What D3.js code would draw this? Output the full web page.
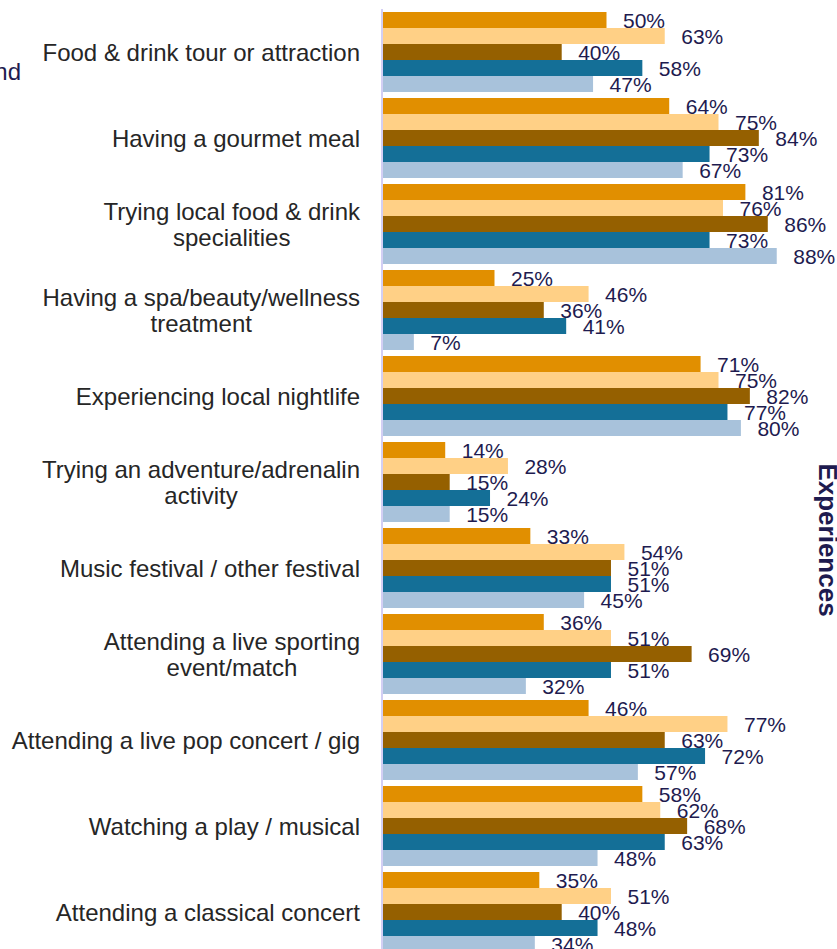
<!DOCTYPE html>
<html>
<head>
<meta charset="utf-8">
<script src="https://cdn.jsdelivr.net/npm/d3@7"></script>
<style>
  html, body { margin: 0; padding: 0; background: #ffffff; overflow: hidden; }
  svg { display: block; font-family: "Liberation Sans", Arial, sans-serif; }
</style>
</head>
<body>
<svg id="chart" width="837" height="949"></svg>
<script>
// ---- data ----
const categories = [
  ["Food & drink tour or attraction"],
  ["Having a gourmet meal"],
  ["Trying local food & drink", "specialities"],
  ["Having a spa/beauty/wellness", "treatment"],
  ["Experiencing local nightlife"],
  ["Trying an adventure/adrenalin", "activity"],
  ["Music festival / other festival"],
  ["Attending a live sporting", "event/match"],
  ["Attending a live pop concert / gig"],
  ["Watching a play / musical"],
  ["Attending a classical concert"]
];
const seriesNames = ["S1", "S2", "S3", "S4", "S5"];
const series1 = [50, 64, 81, 25, 71, 14, 33, 36, 46, 58, 35];
const series2 = [63, 75, 76, 46, 75, 28, 54, 51, 77, 62, 51];
const series3 = [40, 84, 86, 36, 82, 15, 51, 69, 63, 68, 40];
const series4 = [58, 73, 73, 41, 77, 24, 51, 51, 72, 63, 48];
const series5 = [47, 67, 88, 7, 80, 15, 45, 32, 57, 48, 34];
const seriesValues = [series1, series2, series3, series4, series5];
const seriesColors = ["#E18F00", "#FFD086", "#956000", "#146F97", "#A8C2DB"];
const sideTitle = "Experiences";
const cutText = "nd";

// ---- layout ----
const svg = d3.select("#chart");
const catKeys = categories.map((c, i) => i);

const x = d3.scaleLinear().domain([0, 100]).range([382.5, 830.5]);
const step = 86, gap = 6;
const y = d3.scaleBand()
  .domain(catKeys)
  .range([9, 9 + step * catKeys.length])
  .paddingInner(gap / step)
  .paddingOuter(gap / step / 2);
const ySub = d3.scaleBand().domain(seriesNames).range([0, y.bandwidth()]).padding(0);

// bars
const groups = svg.append("g").selectAll("g")
  .data(catKeys).join("g")
  .attr("transform", d => `translate(0,${y(d)})`);

groups.selectAll("rect")
  .data(i => seriesNames.map((s, k) => ({ s, k, v: seriesValues[k][i] })))
  .join("rect")
  .attr("x", x(0))
  .attr("y", d => ySub(d.s))
  .attr("width", d => x(d.v) - x(0))
  .attr("height", ySub.bandwidth())
  .attr("fill", d => seriesColors[d.k]);

// value labels
groups.selectAll("text.val")
  .data(i => seriesNames.map((s, k) => ({ s, k, v: seriesValues[k][i] })))
  .join("text")
  .attr("class", "val")
  .attr("x", d => x(d.v) + 16.5)
  .attr("y", d => ySub(d.s) + ySub.bandwidth())
  .attr("font-size", 21)
  .attr("fill", "#1E1B4F")
  .text(d => d.v + "%");

// axis line
const yAxis = d3.axisLeft(y).tickSize(0).tickFormat("");
const axisG = svg.append("g").attr("transform", `translate(${x(0) - 0.5},0)`).call(yAxis);
axisG.select(".domain").attr("stroke", "#D3CFF4").attr("stroke-width", 2)
  .attr("d", `M0,9V949`);

// category labels
const labelRight = 360;
const lineH = 26;
const catG = svg.append("g");
catKeys.forEach(i => {
  const lines = categories[i];
  const cy = y(i) + y.bandwidth() / 2;
  const t = catG.append("text")
    .attr("font-size", 24)
    .attr("fill", "#262626")
    .attr("text-anchor", "middle");
  const tspans = lines.map((ln, j) => t.append("tspan")
    .attr("y", cy + 8.5 + (j - (lines.length - 1) / 2) * lineH)
    .text(ln));
  let maxW = 0;
  tspans.forEach(ts => { maxW = Math.max(maxW, ts.node().getComputedTextLength()); });
  tspans.forEach(ts => ts.attr("x", labelRight - maxW / 2));
});

// cut-off text at left
svg.append("text")
  .attr("x", 21).attr("y", 80)
  .attr("text-anchor", "end")
  .attr("font-size", 24)
  .attr("fill", "#1E1B4F")
  .text(cutText);

// side title at right
svg.append("text")
  .attr("transform", "translate(819,540) rotate(90)")
  .attr("text-anchor", "middle")
  .attr("font-size", 26)
  .attr("font-weight", "bold")
  .attr("fill", "#1E1B4F")
  .text(sideTitle);
</script>
</body>
</html>
